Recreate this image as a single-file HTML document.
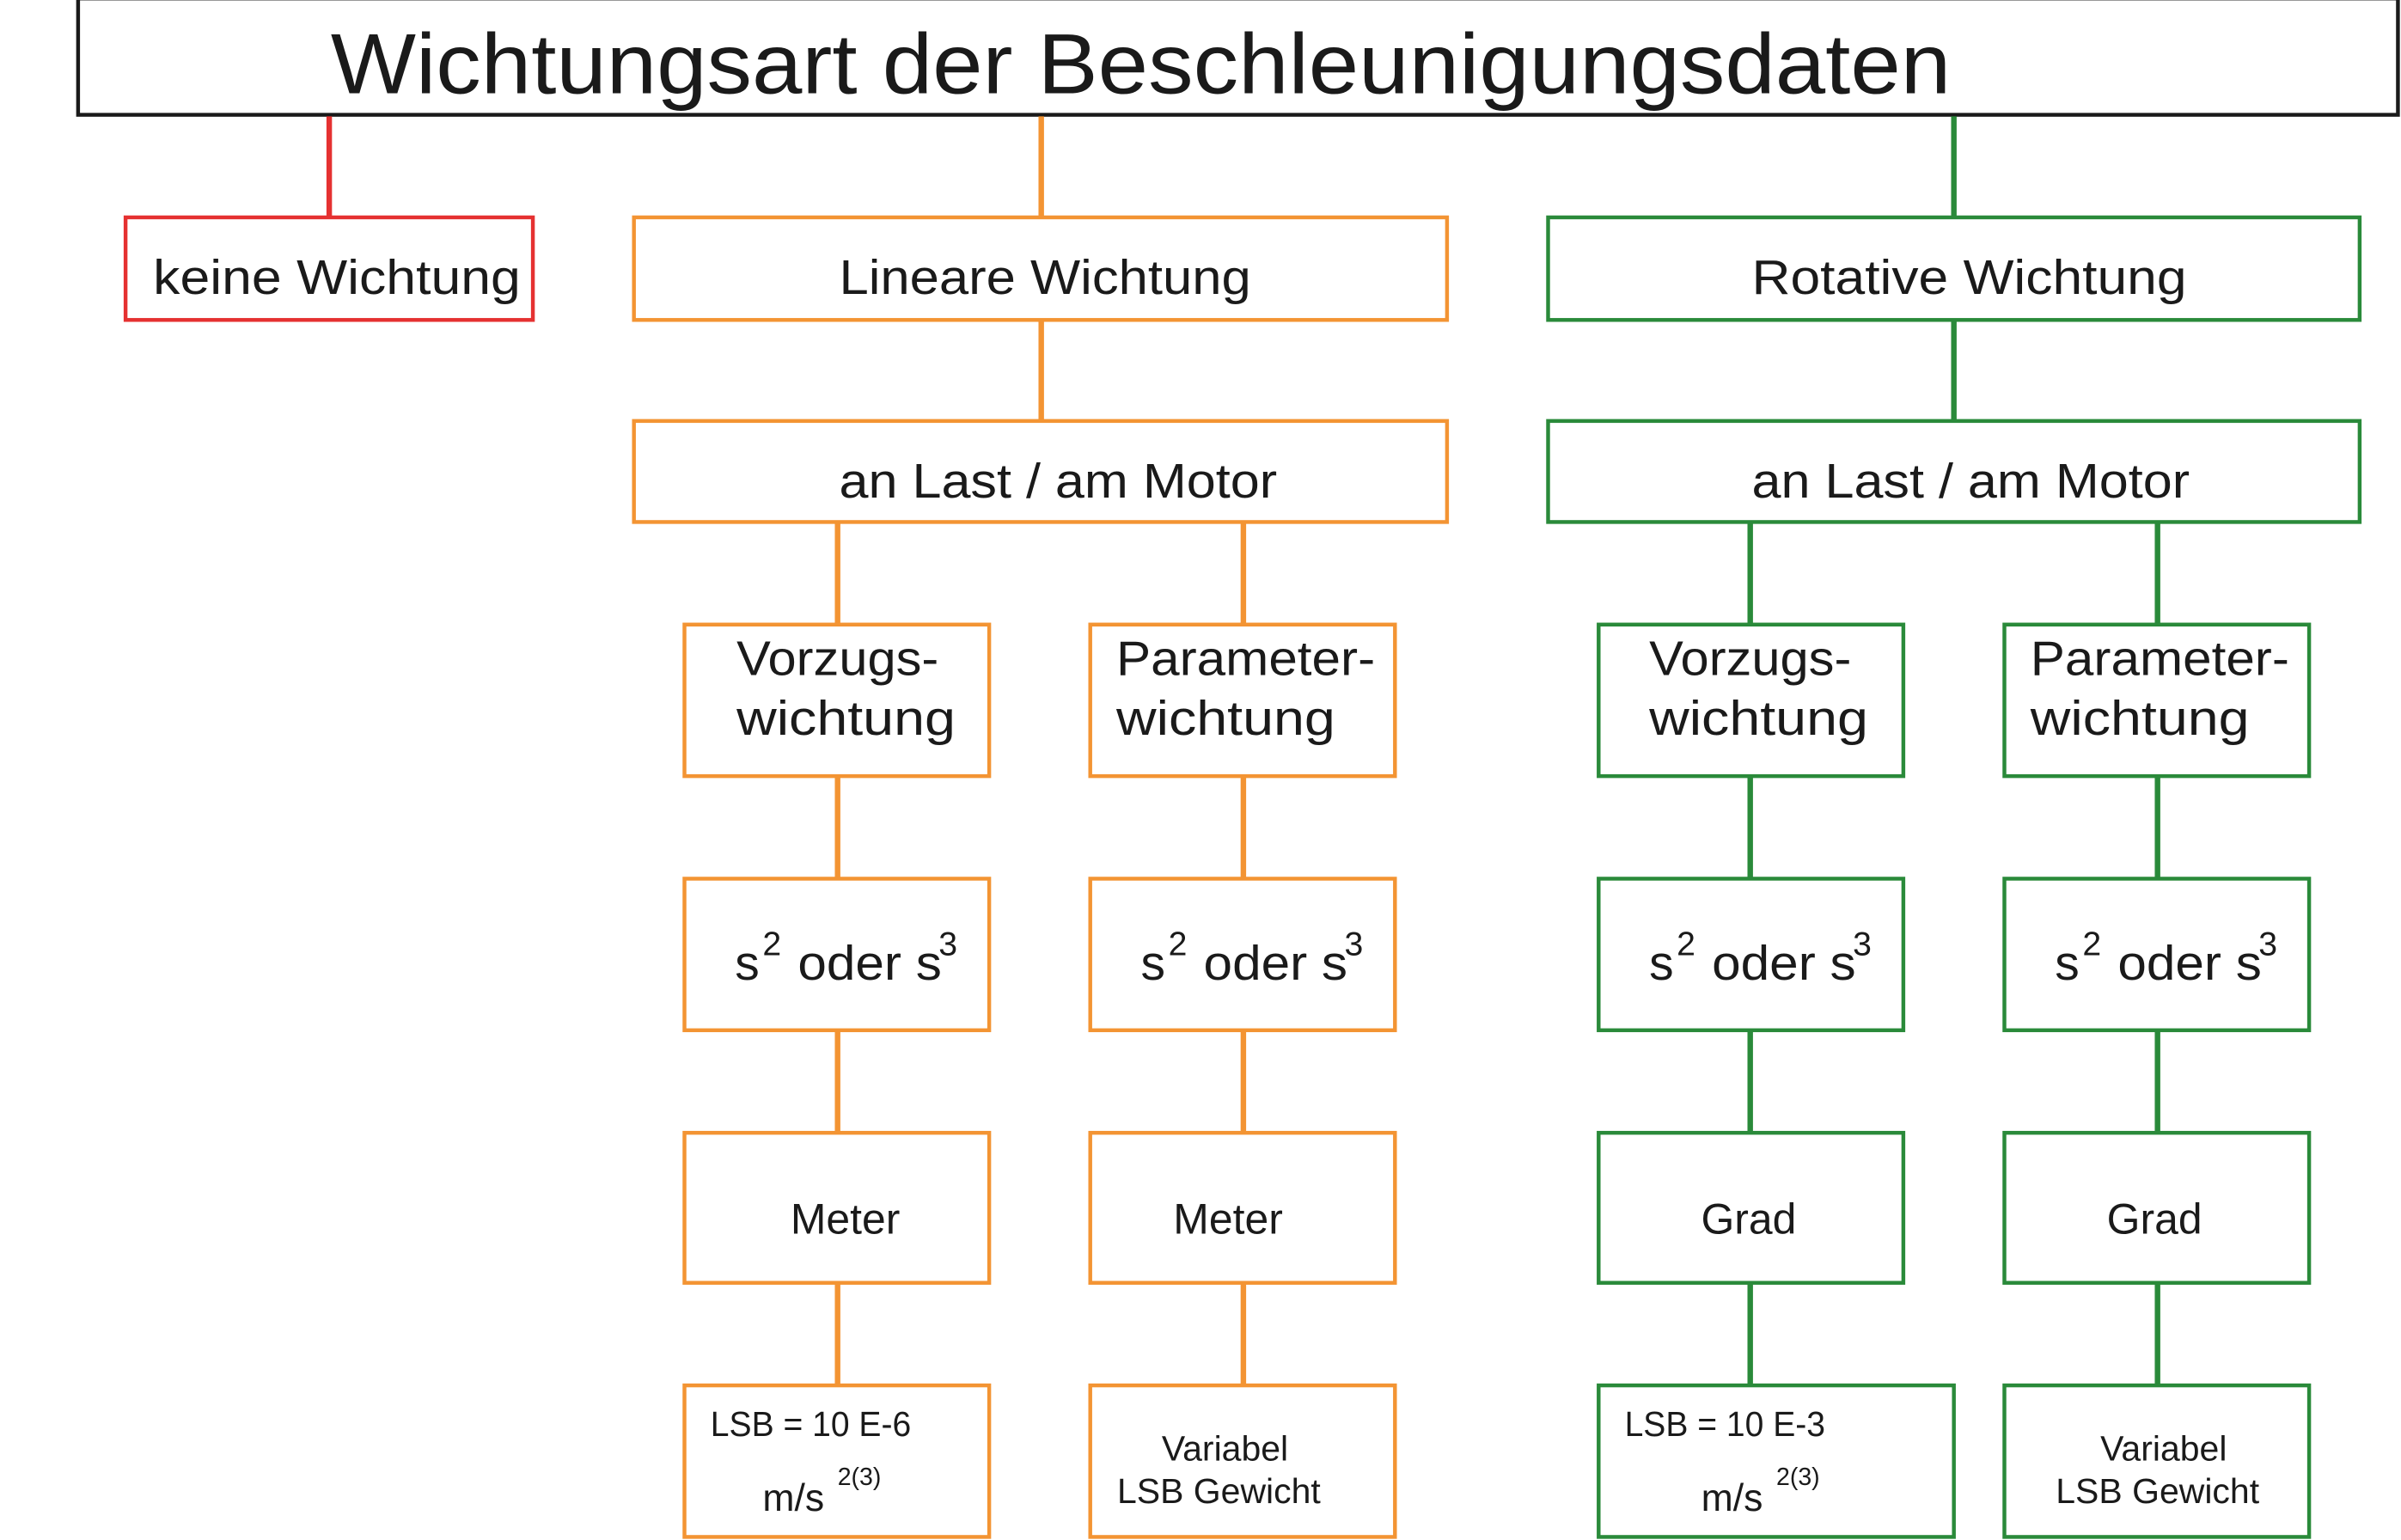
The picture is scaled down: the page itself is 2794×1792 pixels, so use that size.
<!DOCTYPE html>
<html><head><meta charset="utf-8"><style>html,body{margin:0;padding:0;background:#fff}svg{display:block}</style></head>
<body>
<svg width="2794" height="1792" viewBox="0 0 1568 1006" preserveAspectRatio="none" xmlns="http://www.w3.org/2000/svg" font-family="Liberation Sans, sans-serif" fill="#1a1a1a">
<g fill="none" stroke-width="2.5">
<rect x="51" y="-1" width="1515" height="76" stroke="#1a1a1a"/>
<rect x="82" y="142" width="266" height="67" stroke="#e53131"/>
<g stroke="#f39433">
<rect x="414" y="142" width="531" height="67"/>
<rect x="414" y="275" width="531" height="66"/>
<rect x="447" y="408" width="199" height="99"/><rect x="712" y="408" width="199" height="99"/>
<rect x="447" y="574" width="199" height="99"/><rect x="712" y="574" width="199" height="99"/>
<rect x="447" y="740" width="199" height="98"/><rect x="712" y="740" width="199" height="98"/>
<rect x="447" y="905" width="199" height="99"/><rect x="712" y="905" width="199" height="99"/>
</g>
<g stroke="#2a8a3a">
<rect x="1011" y="142" width="530" height="67"/>
<rect x="1011" y="275" width="530" height="66"/>
<rect x="1044" y="408" width="199" height="99"/><rect x="1309" y="408" width="199" height="99"/>
<rect x="1044" y="574" width="199" height="99"/><rect x="1309" y="574" width="199" height="99"/>
<rect x="1044" y="740" width="199" height="98"/><rect x="1309" y="740" width="199" height="98"/>
<rect x="1044" y="905" width="232" height="99"/><rect x="1309" y="905" width="199" height="99"/>
</g>
</g>
<g stroke-width="3.6">
<line x1="215" y1="76" x2="215" y2="142" stroke="#e53131"/>
<g stroke="#f39433">
<line x1="680" y1="76" x2="680" y2="142"/><line x1="680" y1="209" x2="680" y2="275"/>
<line x1="547" y1="341" x2="547" y2="408"/><line x1="812" y1="341" x2="812" y2="408"/>
<line x1="547" y1="507" x2="547" y2="574"/><line x1="812" y1="507" x2="812" y2="574"/>
<line x1="547" y1="673" x2="547" y2="740"/><line x1="812" y1="673" x2="812" y2="740"/>
<line x1="547" y1="838" x2="547" y2="905"/><line x1="812" y1="838" x2="812" y2="905"/>
</g>
<g stroke="#2a8a3a">
<line x1="1276" y1="76" x2="1276" y2="142"/><line x1="1276" y1="209" x2="1276" y2="275"/>
<line x1="1143" y1="341" x2="1143" y2="408"/><line x1="1409" y1="341" x2="1409" y2="408"/>
<line x1="1143" y1="507" x2="1143" y2="574"/><line x1="1409" y1="507" x2="1409" y2="574"/>
<line x1="1143" y1="673" x2="1143" y2="740"/><line x1="1409" y1="673" x2="1409" y2="740"/>
<line x1="1143" y1="838" x2="1143" y2="905"/><line x1="1409" y1="838" x2="1409" y2="905"/>
</g>
</g>
<text x="216" y="61" font-size="56" textLength="1058" lengthAdjust="spacingAndGlyphs">Wichtungsart der Beschleunigungsdaten</text>
<text x="100" y="192" font-size="32" textLength="240" lengthAdjust="spacingAndGlyphs">keine Wichtung</text>
<text x="548" y="192" font-size="32" textLength="269" lengthAdjust="spacingAndGlyphs">Lineare Wichtung</text>
<text x="548" y="325" font-size="32" textLength="286" lengthAdjust="spacingAndGlyphs">an Last / am Motor</text>
<text x="1144" y="192" font-size="32" textLength="284" lengthAdjust="spacingAndGlyphs">Rotative Wichtung</text>
<text x="1144" y="325" font-size="32" textLength="286" lengthAdjust="spacingAndGlyphs">an Last / am Motor</text>
<g font-size="32">
<text x="481" y="441" textLength="132" lengthAdjust="spacingAndGlyphs">Vorzugs-</text>
<text x="481" y="480" textLength="143" lengthAdjust="spacingAndGlyphs">wichtung</text>
<text x="729" y="441" textLength="169" lengthAdjust="spacingAndGlyphs">Parameter-</text>
<text x="729" y="480" textLength="143" lengthAdjust="spacingAndGlyphs">wichtung</text>
<text x="1077" y="441" textLength="132" lengthAdjust="spacingAndGlyphs">Vorzugs-</text>
<text x="1077" y="480" textLength="143" lengthAdjust="spacingAndGlyphs">wichtung</text>
<text x="1326" y="441" textLength="169" lengthAdjust="spacingAndGlyphs">Parameter-</text>
<text x="1326" y="480" textLength="143" lengthAdjust="spacingAndGlyphs">wichtung</text>
</g>
<g font-size="32">
<text x="480" y="640">s</text><text x="498" y="624" font-size="22">2</text><text x="521" y="640" textLength="94" lengthAdjust="spacingAndGlyphs">oder s</text><text x="613" y="624" font-size="22">3</text>
<text x="745" y="640">s</text><text x="763" y="624" font-size="22">2</text><text x="786" y="640" textLength="94" lengthAdjust="spacingAndGlyphs">oder s</text><text x="878" y="624" font-size="22">3</text>
<text x="1077" y="640">s</text><text x="1095" y="624" font-size="22">2</text><text x="1118" y="640" textLength="94" lengthAdjust="spacingAndGlyphs">oder s</text><text x="1210" y="624" font-size="22">3</text>
<text x="1342" y="640">s</text><text x="1360" y="624" font-size="22">2</text><text x="1383" y="640" textLength="94" lengthAdjust="spacingAndGlyphs">oder s</text><text x="1475" y="624" font-size="22">3</text>
</g>
<g font-size="28" text-anchor="middle">
<text x="552" y="806">Meter</text><text x="802" y="806">Meter</text>
<text x="1142" y="806">Grad</text><text x="1407" y="806">Grad</text>
</g>
<g font-size="23">
<text x="464" y="938" textLength="131" lengthAdjust="spacingAndGlyphs">LSB = 10 E-6</text>
<text x="498" y="987" font-size="25">m/s</text><text x="547" y="970" font-size="16">2(3)</text>
<text x="1061" y="938" textLength="131" lengthAdjust="spacingAndGlyphs">LSB = 10 E-3</text>
<text x="1111" y="987" font-size="25">m/s</text><text x="1160" y="970" font-size="16">2(3)</text>
</g>
<g font-size="23" text-anchor="middle">
<text x="800" y="954">Variabel</text><text x="796" y="982">LSB Gewicht</text>
<text x="1413" y="954">Variabel</text><text x="1409" y="982">LSB Gewicht</text>
</g>
</svg>
</body></html>
